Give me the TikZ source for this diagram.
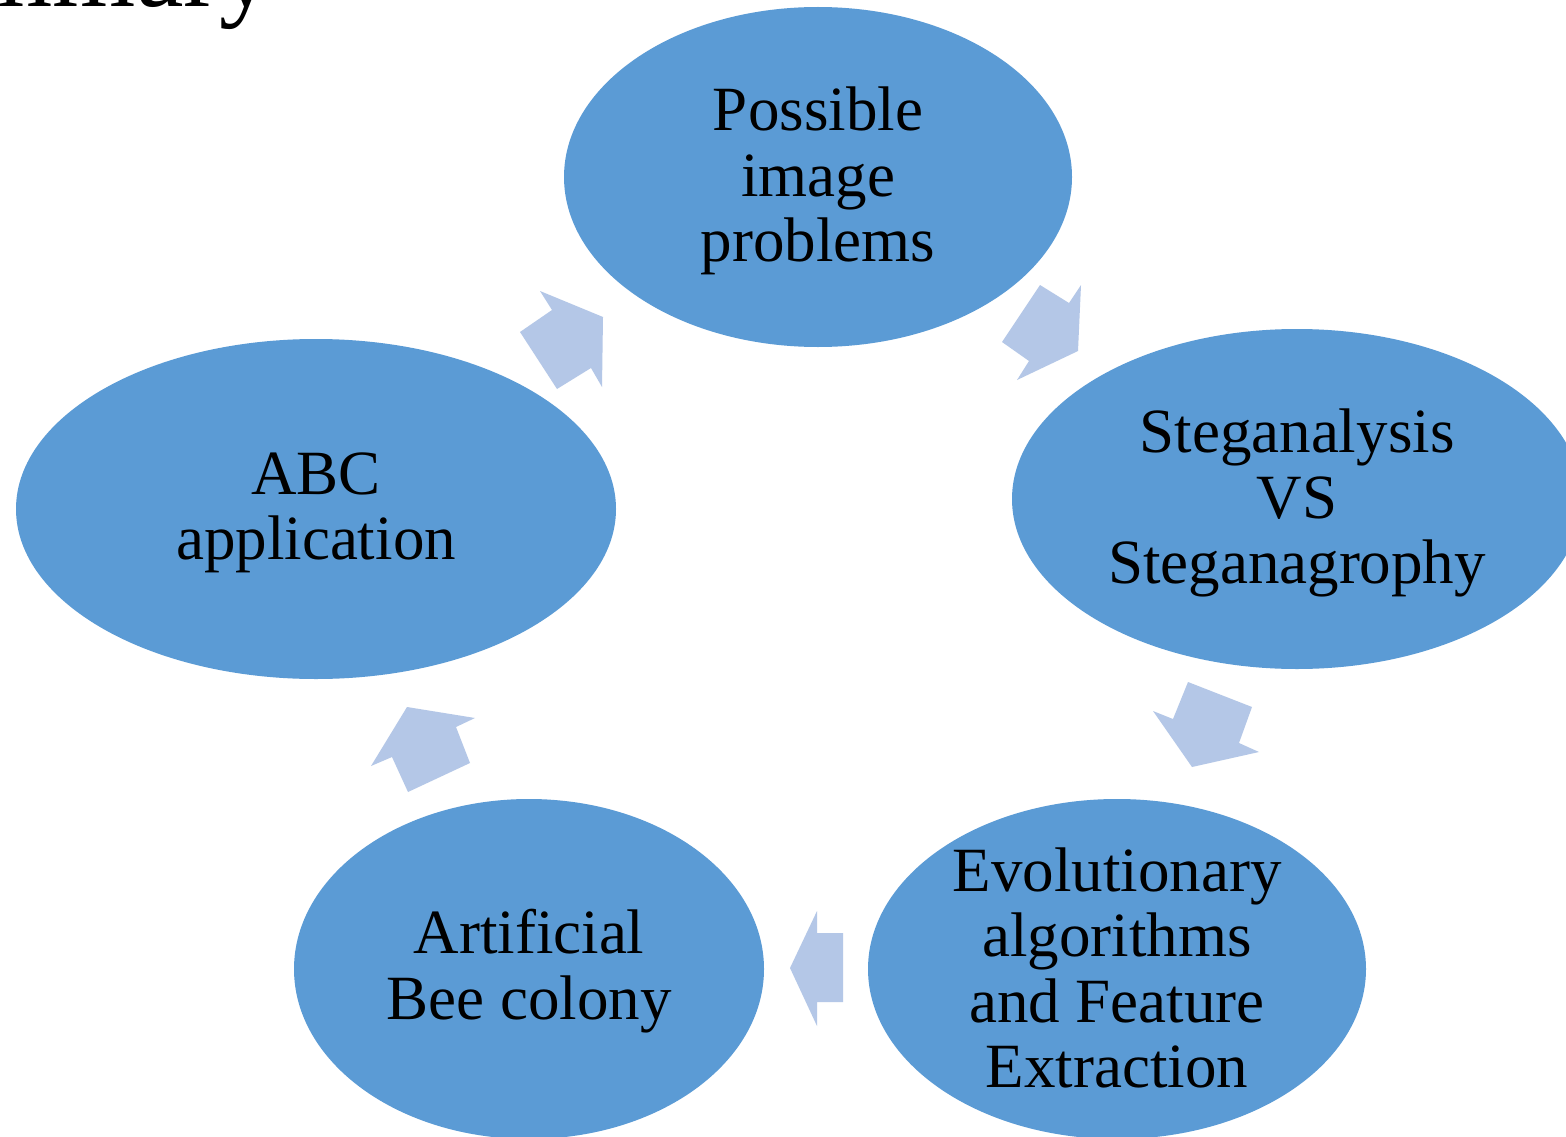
\documentclass[tikz,border=0pt]{standalone}
\usepackage{fontspec}
\setmainfont{Liberation Serif}
\usetikzlibrary{shapes.geometric}
\definecolor{bubble}{HTML}{5B9BD5}
\definecolor{flow}{HTML}{B4C7E7}
\tikzset{
  bub/.style={ellipse, fill=bubble, draw=none, inner sep=0pt},
  lbl/.style={align=center, inner sep=0pt, text=black, yshift=-4pt,
    font=\fontsize{63}{65.5}\selectfont},
  flowarrow/.style={fill=flow, draw=none}
}
\begin{document}
\begin{tikzpicture}[x=1pt,y=-1pt]
\clip (0,0) rectangle (1566,1137);
\useasboundingbox (0,0) rectangle (1566,1137);
\fill[white] (0,0) rectangle (1566,1137);

% title, mostly above the visible area
\node[anchor=base east, inner sep=0pt, font=\fontsize{107}{110}\selectfont] (title) at (273,7) {Summary};

% cycle stages
\node[bub, minimum width=508pt, minimum height=340pt] (s1) at (818,177) {};
\node[bub, minimum width=570pt, minimum height=340pt] (s2) at (1297,499) {};
\node[bub, minimum width=498pt, minimum height=340pt] (s3) at (1117,969) {};
\node[bub, minimum width=470pt, minimum height=340pt] (s4) at (529,969) {};
\node[bub, minimum width=600pt, minimum height=340pt] (s5) at (316,509) {};

\node[lbl] (t1) at (s1) {Possible\\image\\problems};
\node[lbl] (t2) at (s2) {Steganalysis\\VS\\Steganagrophy};
\node[lbl, yshift=5pt] (t3) at (s3) {Evolutionary\\algorithms\\and Feature\\Extraction};
\node[lbl, yshift=2pt] (t4) at (s4) {Artificial\\Bee colony};
\node[lbl] (t5) at (s5) {ABC\\application};

% block arrows between the stages
\fill[flowarrow] (540,291) -- (603,317) -- (602,387) -- (591,368) -- (557,389) -- (520,332) -- (552,310) -- cycle;
\fill[flowarrow] (1040,285) -- (1069,303) -- (1081,285) -- (1078,351) -- (1017,380) -- (1029,361) -- (1002,342) -- cycle;
\fill[flowarrow] (1188,682) -- (1252,707) -- (1239,743) -- (1259,752) -- (1192,767) -- (1153,711) -- (1173,719) -- cycle;
\fill[flowarrow] (407,707) -- (475,718) -- (456,727) -- (470,763) -- (408,792) -- (392,757) -- (371,766) -- cycle;
\fill[flowarrow] (790,968) -- (817,911) -- (817,933) -- (843,933) -- (843,1002) -- (817,1002) -- (817,1026) -- cycle;
\end{tikzpicture}
\end{document}
